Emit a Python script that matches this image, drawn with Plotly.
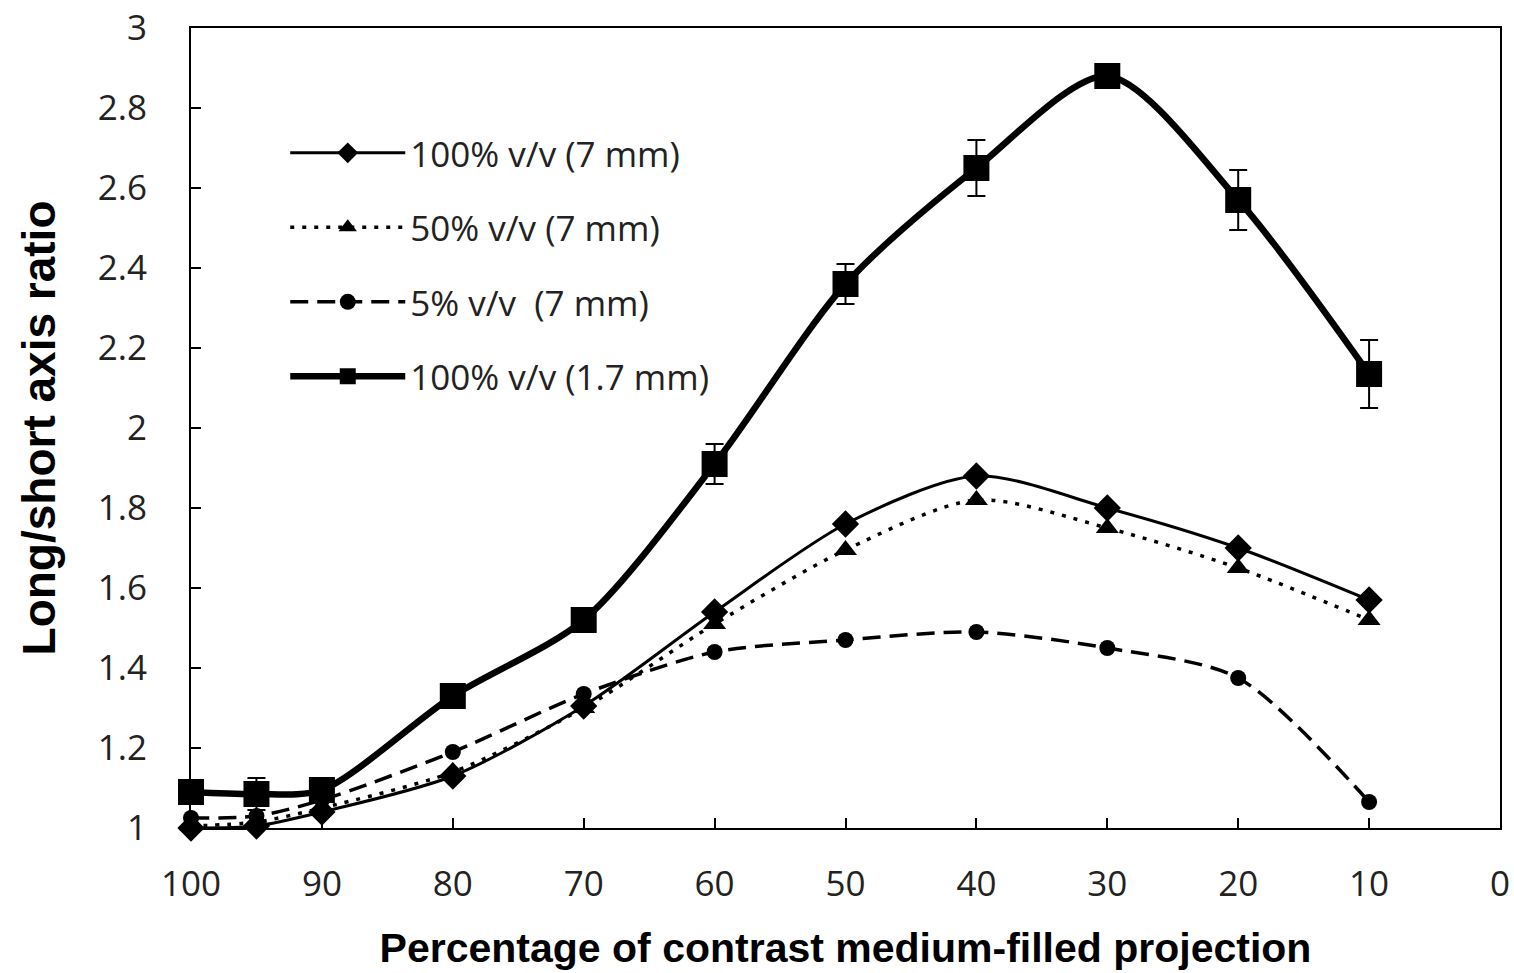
import plotly.graph_objects as go

x_vals = [100, 95, 90, 80, 70, 60, 50, 40, 30, 20, 10]

diamond_7mm_100 = [1.00, 1.005, 1.04, 1.13, 1.305, 1.54, 1.76, 1.88, 1.80, 1.70, 1.57]
triangle_7mm_50 = [1.005, 1.015, 1.05, 1.14, 1.30, 1.51, 1.695, 1.82, 1.75, 1.65, 1.52]
circle_7mm_5 = [1.025, 1.03, 1.07, 1.19, 1.335, 1.44, 1.47, 1.49, 1.45, 1.375, 1.065]
square_17mm_100 = [1.09, 1.085, 1.095, 1.33, 1.52, 1.91, 2.36, 2.65, 2.88, 2.57, 2.135]
square_err = [0.01, 0.04, 0.03, 0.03, 0.02, 0.05, 0.05, 0.07, 0.01, 0.075, 0.085]

names = ["100% v/v (7 mm)", "50% v/v (7 mm)", "5% v/v  (7 mm)", "100% v/v (1.7 mm)"]

x_ticks = [100, 90, 80, 70, 60, 50, 40, 30, 20, 10, 0]
y_ticks = [1, 1.2, 1.4, 1.6, 1.8, 2, 2.2, 2.4, 2.6, 2.8, 3]
y_tick_text = ["1", "1.2", "1.4", "1.6", "1.8", "2", "2.2", "2.4", "2.6", "2.8", "3"]

fig = go.Figure()

fig.add_trace(go.Scatter(
    x=x_vals, y=diamond_7mm_100, name=names[0], mode="lines+markers",
    line=dict(color="black", width=3, shape="spline", smoothing=0.8),
    marker=dict(symbol="diamond", size=21, color="black"),
    legendgroup="a", cliponaxis=False))
fig.add_trace(go.Scatter(
    x=x_vals, y=triangle_7mm_50, name=names[1], mode="lines+markers",
    line=dict(color="black", width=3.5, dash="4px,8px", shape="spline", smoothing=0.8),
    marker=dict(symbol="triangle-up", size=20, color="black"),
    legendgroup="b", cliponaxis=False))
fig.add_trace(go.Scatter(
    x=x_vals, y=circle_7mm_5, name=names[2], mode="lines+markers",
    line=dict(color="black", width=3.5, dash="18px,9px", shape="spline", smoothing=0.8),
    marker=dict(symbol="circle", size=16, color="black"),
    legendgroup="c", cliponaxis=False))
fig.add_trace(go.Scatter(
    x=x_vals, y=square_17mm_100, name=names[3], mode="lines+markers",
    line=dict(color="black", width=6.5, shape="spline", smoothing=0.8),
    marker=dict(symbol="square", size=26, color="black"),
    error_y=dict(type="data", array=square_err, visible=True, color="black", thickness=2, width=9),
    legendgroup="d", cliponaxis=False))

font_family = "Open Sans, Noto Sans, sans-serif"
title_family = "Liberation Sans, Arial, sans-serif"

fig.update_layout(
    width=1514, height=973,
    paper_bgcolor="white", plot_bgcolor="white",
    margin=dict(l=191, r=14, t=28, b=145),
    showlegend=True,
    legend=dict(x=0.072, y=0.8805, xanchor="left", yanchor="top",
                font=dict(family=font_family, size=35, color="#222"),
                itemwidth=115, tracegroupgap=26, bgcolor="rgba(0,0,0,0)"),
    font=dict(family=font_family, color="black"),
)

fig.update_xaxes(
    range=[100, 0], tickmode="array", tickvals=x_ticks,
    ticktext=[str(t) for t in x_ticks],
    ticks="inside", ticklen=10, tickwidth=2, tickcolor="black",
    showline=True, linecolor="black", linewidth=2, mirror=True,
    showgrid=False, zeroline=False, automargin=False,
    tickfont=dict(family=font_family, size=35, color="#222"),
    ticklabelstandoff=24,
    title=dict(text="<b>Percentage of contrast medium-filled projection</b>",
               font=dict(family=title_family, size=41, color="black"),
               standoff=28),
)
fig.update_yaxes(
    range=[1, 3], tickmode="array", tickvals=y_ticks, ticktext=y_tick_text,
    ticks="inside", ticklen=10, tickwidth=2, tickcolor="black",
    showline=True, linecolor="black", linewidth=2, mirror=True,
    showgrid=False, zeroline=False, automargin=False,
    tickfont=dict(family=font_family, size=35, color="#222"),
    ticklabelstandoff=35,
    title=dict(text="<b>Long/short axis ratio</b>",
               font=dict(family=title_family, size=46, color="black"),
               standoff=28),
)

fig.write_html("out.html", config={"displayModeBar": False},
               post_script="document.body.style.margin='0';document.body.style.overflow='hidden';")
